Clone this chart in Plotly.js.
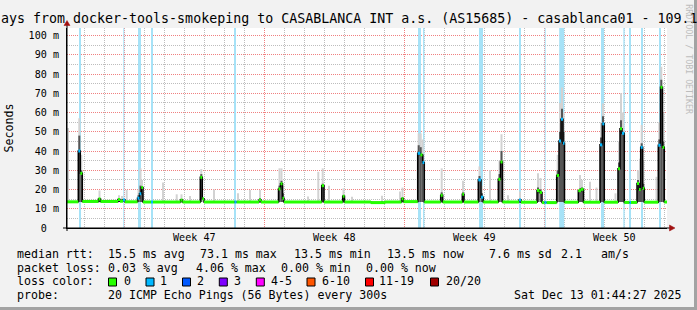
<!DOCTYPE html>
<html><head><meta charset="utf-8">
<script src="https://cdn.plot.ly/plotly-3.0.1.min.js"></script>
<style>html,body{margin:0;padding:0;background:#f2f2f2;overflow:hidden}#chart{width:697px;height:310px}</style>
</head><body><div id="chart"></div>
<script>
// ================= DATA =================
// x values are days since the start of the 30-day window
const weekLabels = ['Week 47', 'Week 48', 'Week 49', 'Week 50'];
const weekCenters = [6.365, 13.365, 20.365, 27.365];
const weekStarts = [2.865, 9.865, 16.865, 23.865];
const yTickVals = [0, 10, 20, 30, 40, 50, 60, 70, 80, 90, 100];
const yTickText = ['0\u00a0\u00a0', '10 m', '20 m', '30 m', '40 m', '50 m', '60 m', '70 m', '80 m', '90 m', '100 m'];

// median rtt steps (ms) and loss count of each step
const medianDay = [0, 0.565, 0.665, 0.765, 1.575, 1.675, 2.55, 2.65, 2.8, 2.9,
  3.525, 3.625, 3.715, 3.8, 4.2, 4.3, 5.675, 5.775, 6.665, 6.765, 6.85,
  8.375, 8.475, 9.6, 9.7, 10.575, 10.675, 10.775, 10.85, 12.735, 12.85,
  13.785, 13.875, 15.2, 15.9, 16.725, 16.825, 17.535, 17.665, 17.775, 17.865,
  18.685, 18.785, 19.765, 19.85, 20.565, 20.7, 20.815, 21.565, 21.675, 21.775,
  22.6, 22.7, 23.5, 23.625, 23.75, 23.875, 23.975, 24.485, 24.6, 24.7, 24.8, 24.875,
  25.565, 25.7, 25.825, 26.65, 26.765, 26.865, 27.55, 27.65, 27.75, 27.865,
  28.125, 28.2, 28.5, 28.6, 28.685, 28.785, 28.865, 29.565, 29.675, 29.775, 29.865, 30];
const medianMs = [13.6, 40.0, 28.4, 13.8, 15.1, 13.8, 14.8, 13.9, 14.5, 13.6,
  15.5, 17.8, 21.0, 13.5, 13.5, 13.5, 14.5, 13.5, 26.3, 15.2, 13.5,
  13.5, 13.5, 14.5, 13.5, 20.3, 23.0, 15.5, 13.5, 22.0, 13.5,
  16.5, 13.5, 13.2, 13.5, 15.2, 13.7, 38.8, 38.0, 34.0, 13.5,
  17.0, 13.5, 17.5, 13.5, 25.0, 16.0, 13.5, 25.3, 34.3, 13.5,
  14.5, 13.4, 19.5, 18.5, 13.2, 13.3, 13.2, 27.3, 45.2, 56.5, 44.0, 13.4,
  19.4, 20.1, 13.4, 43.2, 54.1, 13.4, 30.8, 51.5, 49.2, 13.3,
  13.3, 13.3, 23.1, 20.0, 41.9, 20.6, 13.4, 43.0, 73.1, 41.9, 13.5, 13.5];
const medianLoss = [0, 1, 0, 0, 0, 0, 0, 0, 1, 0,
  1, 1, 0, 0, 1, 0, 0, 0, 0, 0, 0,
  1, 0, 0, 0, 0, 0, 0, 0, 0, 0,
  0, 0, 0, 0, 0, 0, 1, 0, 1, 0,
  0, 0, 0, 0, 1, 1, 0, 0, 0, 0,
  1, 0, 0, 0, 0, 1, 0, 0, 1, 1, 1, 0,
  0, 0, 0, 1, 1, 0, 0, 0, 1, 0,
  1, 0, 0, 0, 1, 0, 0, 1, 0, 0, 0, 0];

// smoke columns: min, dense core and max of the 20 pings (ms)
const smokeDay = [0.05, 0.615, 0.715, 1.625, 2.6, 2.75, 2.985, 3.575, 3.675, 3.75,
  4.8, 5.485, 5.725, 6.15, 6.715, 7.35, 8.55, 9.15, 9.65, 10.625, 10.725, 10.8,
  12.05, 12.565, 12.785, 13.1, 13.825, 14.25, 15.75, 16.65, 16.775,
  17.585, 17.685, 17.785, 18.735, 19.8, 20.625, 20.75, 21.15, 21.625, 21.725,
  22.05, 22.65, 23.55, 23.675, 24.535, 24.65, 24.75, 24.825, 25.65, 25.75,
  26.15, 26.475, 26.7, 26.8, 27.425, 27.6, 27.7, 27.8, 28.55, 28.65, 28.735, 28.815,
  29.475, 29.615, 29.715, 29.815];
const smokeMin = [13.5, 13.5, 13.5, 13.5, 13.5, 13.5, 13.5, 13.5, 13.5, 13.5,
  13.5, 13.5, 13.5, 13.5, 13.5, 13.5, 13.5, 13.5, 13.5, 13.5, 13.5, 13.5,
  13.5, 13.5, 13.5, 13.5, 13.5, 13.5, 13.5, 13.5, 13.5,
  13.5, 13.5, 13.5, 13.5, 13.5, 13.5, 13.5, 13.5, 13.5, 13.5,
  13.5, 13.5, 13.5, 13.5, 13.5, 13.5, 13.5, 13.5, 13.5, 13.5,
  13.5, 13.5, 13.5, 13.5, 13.5, 13.5, 13.5, 13.5, 13.5, 13.5, 13.5, 13.5,
  13.5, 13.5, 13.5, 13.5];
const smokeCore = [14, 48, 30, 15.5, 15, 15, 14, 17, 22, 18,
  14, 14, 15, 14, 28, 14, 14, 14, 15.5, 22, 24.5, 18,
  14, 14, 23, 14, 17, 14, 14, 14, 16,
  43, 42, 38, 18.5, 18.5, 27, 18, 14, 28, 40,
  14, 15, 21, 20, 30, 50, 62, 50, 20.5, 21,
  14, 14, 47, 58, 14, 34, 56, 50, 25, 22, 44, 23,
  14, 46, 77, 45];
const smokeMax = [52, 57, 38, 19.5, 17, 16.6, 19.8, 20, 31, 25,
  23.6, 17.5, 17.5, 16.6, 30.6, 20, 18, 19.7, 19.7, 31, 31, 22,
  16.3, 29.2, 31, 22, 20.6, 16.2, 16.8, 19, 21,
  49.2, 49.2, 46, 31, 24.5, 32, 22, 30, 35, 48.7,
  17, 19, 28.4, 26, 38, 65, 73, 60, 27.5, 25,
  24, 21, 55, 64.7, 18, 45, 70, 60, 30, 36, 53.5, 35,
  26.6, 55, 83.8, 60];

// periods with packet loss (day centre, duration in days)
const lossDay = [0.65, 2.84, 3.625, 4.25, 8.4, 17.625, 17.835, 20.7, 22.65, 23.91,
  24.735, 26.775, 27.85, 28.15, 28.75, 29.65];
const lossSpan = [0.1, 0.05, 0.15, 0.1, 0.1, 0.15, 0.065, 0.2, 0.1, 0.05,
  0.25, 0.15, 0.065, 0.1, 0.1, 0.1];

const lossColorLabels = ['0', '1', '2', '3', '4-5', '6-10', '11-19', '20/20'];
const lossColors = ['#26ff00', '#00b8ff', '#0059ff', '#7e00ff', '#ff00ff', '#ff5500', '#ff0000', '#a10000'];

const rttStats = ['15.5 ms avg', '73.1 ms max', '13.5 ms min', '13.5 ms now', '7.6 ms sd', '2.1', 'am/s'];
const lossStats = ['0.03 % avg', '4.06 % max', '0.00 % min', '0.00 % now'];
const probeText = '20 ICMP Echo Pings (56 Bytes) every 300s';
const stampText = 'Sat Dec 13 01:44:27 2025';
const titleText = 'ays from docker-tools-smokeping to CASABLANCA INT a.s. (AS15685) - casablanca01 - 109.1';

// ================= DRAWING =================
const L = 67, T = 28, W = 600, H = 200;
const PX = x => (x - L) / W;
const PY = y => (T + H - y) / H;
const Y_TOP = 103.9;
const MONO = 'DejaVu Sans Mono';

const dayLines = [];
for (let k = 0; k < 30; k++) dayLines.push(0.865 + k);

function stepSegments(lossVal) {
  const xs = [], ys = [];
  for (let i = 0; i < medianDay.length - 1; i++) {
    if (medianLoss[i] === lossVal) {
      xs.push(medianDay[i], medianDay[i + 1], null);
      ys.push(medianMs[i], medianMs[i], null);
    }
  }
  return {xs, ys};
}
const g = stepSegments(0), b = stepSegments(1);

const traces = [
  {type: 'bar', x: lossDay, y: lossDay.map(() => Y_TOP), base: 0, width: lossSpan,
   marker: {color: '#a6e2f7', line: {width: 0}}, hoverinfo: 'skip', showlegend: false},
  {type: 'bar', x: smokeDay, base: smokeMin, y: smokeMax.map((v, i) => v - smokeMin[i]), width: 0.1,
   marker: {color: '#d2d2d2', line: {width: 0}}, hoverinfo: 'skip', showlegend: false},
  {type: 'bar', x: smokeDay, base: smokeMin, y: smokeCore.map((v, i) => v - smokeMin[i]), width: 0.1,
   marker: {color: '#555555', line: {width: 0}}, hoverinfo: 'skip', showlegend: false},
  {type: 'scatter', mode: 'lines', x: medianDay, y: medianMs, line: {shape: 'hv', color: '#000', width: 1.5},
   hoverinfo: 'skip', showlegend: false},
  {type: 'scatter', mode: 'lines', x: g.xs, y: g.ys, line: {color: lossColors[0], width: 3},
   connectgaps: false, hoverinfo: 'skip', showlegend: false},
  {type: 'scatter', mode: 'lines', x: b.xs, y: b.ys, line: {color: lossColors[1], width: 3},
   connectgaps: false, hoverinfo: 'skip', showlegend: false},
  {type: 'scatter', mode: 'lines', x: [], y: [], xaxis: 'x2', yaxis: 'y', hoverinfo: 'skip', showlegend: false}
];

const legFont = {family: MONO, size: 11.6, color: '#000'};
const annotations = [];
function txt(x, y, t, font) {
  annotations.push({xref: 'paper', yref: 'paper', x: PX(x - 0.8), y: PY(y), text: t, showarrow: false,
    xanchor: 'left', yanchor: 'middle', font: font || legFont, borderpad: 0});
}
const ly = [254.3, 267.7, 281.3, 295.0];
txt(16.7, ly[0], 'median rtt:');
[107.3, 200, 293.3, 387, 488.5, 561, 600.3].forEach((x, i) => txt(x, ly[0], rttStats[i]));
txt(16.7, ly[1], 'packet loss:');
[107.3, 196, 281, 366].forEach((x, i) => txt(x, ly[1], lossStats[i]));
txt(16.7, ly[2], 'loss color:');
const boxX = [108.5, 146, 182.5, 219.3, 256.3, 307, 365.5, 430.5];
const boxLabelX = [123.3, 160, 196.7, 233.3, 270.7, 321.7, 378.7, 445.3];
lossColorLabels.forEach((t, i) => txt(boxLabelX[i], ly[2], t));
txt(16.7, ly[3], 'probe:');
txt(107.3, ly[3], probeText);
txt(513.7, ly[3], stampText);
annotations.push({xref: 'paper', yref: 'paper', x: PX(688.3), y: PY(59.5), text: 'RRDTOOL / TOBI OETIKER',
  textangle: 90, showarrow: false, xanchor: 'center', yanchor: 'middle',
  font: {family: MONO, size: 8.3, color: '#bdbdbd'}, borderpad: 0});

const shapes = [];
boxX.forEach((x, i) => shapes.push({type: 'rect', xref: 'paper', yref: 'paper',
  x0: PX(x), x1: PX(x + 8), y0: PY(286), y1: PY(278),
  fillcolor: lossColors[i], line: {color: '#000', width: 1}}));
// axis extensions and arrows
shapes.push({type: 'line', xref: 'paper', yref: 'paper', x0: PX(63), x1: PX(670), y0: 0, y1: 0, line: {color: '#000', width: 1}});
shapes.push({type: 'line', xref: 'paper', yref: 'paper', x0: 0, x1: 0, y0: PY(231), y1: PY(24), line: {color: '#000', width: 1}});
shapes.push({type: 'path', xref: 'paper', yref: 'paper',
  path: `M ${PX(67)},${PY(20.5)} L ${PX(64)},${PY(25.5)} L ${PX(70)},${PY(25.5)} Z`,
  fillcolor: '#a01010', line: {color: '#a01010', width: 0.5}});
shapes.push({type: 'path', xref: 'paper', yref: 'paper',
  path: `M ${PX(675)},${PY(228)} L ${PX(669.5)},${PY(225)} L ${PX(669.5)},${PY(231)} Z`,
  fillcolor: '#a01010', line: {color: '#a01010', width: 0.5}});
// frame shade
shapes.push({type: 'rect', xref: 'paper', yref: 'paper', x0: PX(694), x1: PX(698), y0: PY(311), y1: PY(-1),
  fillcolor: '#a3a3a3', line: {width: 0}});
shapes.push({type: 'rect', xref: 'paper', yref: 'paper', x0: PX(-1), x1: PX(698), y0: PY(311), y1: PY(307),
  fillcolor: '#a3a3a3', line: {width: 0}});

const layout = {
  width: 697, height: 310,
  margin: {l: L, r: 697 - L - W, t: T, b: 310 - T - H, pad: 0},
  paper_bgcolor: '#f2f2f2', plot_bgcolor: '#ffffff',
  barmode: 'overlay', showlegend: false,
  font: {family: MONO, size: 10.1, color: '#000'},
  title: {text: titleText, font: {family: MONO, size: 13.3, color: '#000'},
    xref: 'container', yref: 'container', x: 1 / 697, xanchor: 'left',
    y: 1 - 18.8 / 310, yanchor: 'middle', pad: {t: 0, b: 0, l: 0, r: 0}},
  xaxis: {range: [0, 30], tickmode: 'array', tickvals: weekStarts, showticklabels: false,
    showgrid: true, gridcolor: '#f08080', griddash: '1px,1px', gridwidth: 1,
    minor: {tickmode: 'array', tickvals: dayLines, showgrid: true, gridcolor: '#bdbdbd', griddash: '1px,1px', gridwidth: 1, ticks: ''},
    showline: true, linecolor: '#000', linewidth: 1, zeroline: false, ticks: '', fixedrange: true},
  xaxis2: {overlaying: 'x', matches: 'x', anchor: 'y', side: 'bottom', range: [0, 30],
    tickmode: 'array', tickvals: weekCenters, ticktext: weekLabels,
    showgrid: false, showline: false, zeroline: false, ticks: '', ticklabelstandoff: 2,
    tickfont: {family: MONO, size: 10.1, color: '#000'}},
  yaxis: {range: [0, Y_TOP], tickmode: 'array', tickvals: yTickVals, ticktext: yTickText,
    showgrid: true, gridcolor: '#f08080', griddash: '1px,1px', gridwidth: 1,
    minor: {dtick: 5, tick0: 0, showgrid: true, gridcolor: '#bdbdbd', griddash: '1px,1px', gridwidth: 1, ticks: ''},
    showline: true, linecolor: '#000', linewidth: 1, zeroline: false, ticks: '', ticklabelstandoff: 5,
    tickfont: {family: MONO, size: 10.1, color: '#000'},
    title: {text: 'Seconds', font: {family: MONO, size: 11.6, color: '#000'}, standoff: 12}},
  annotations: annotations,
  shapes: shapes
};

Plotly.newPlot('chart', traces, layout, {displayModeBar: false, staticPlot: true});
</script>
</body></html>
